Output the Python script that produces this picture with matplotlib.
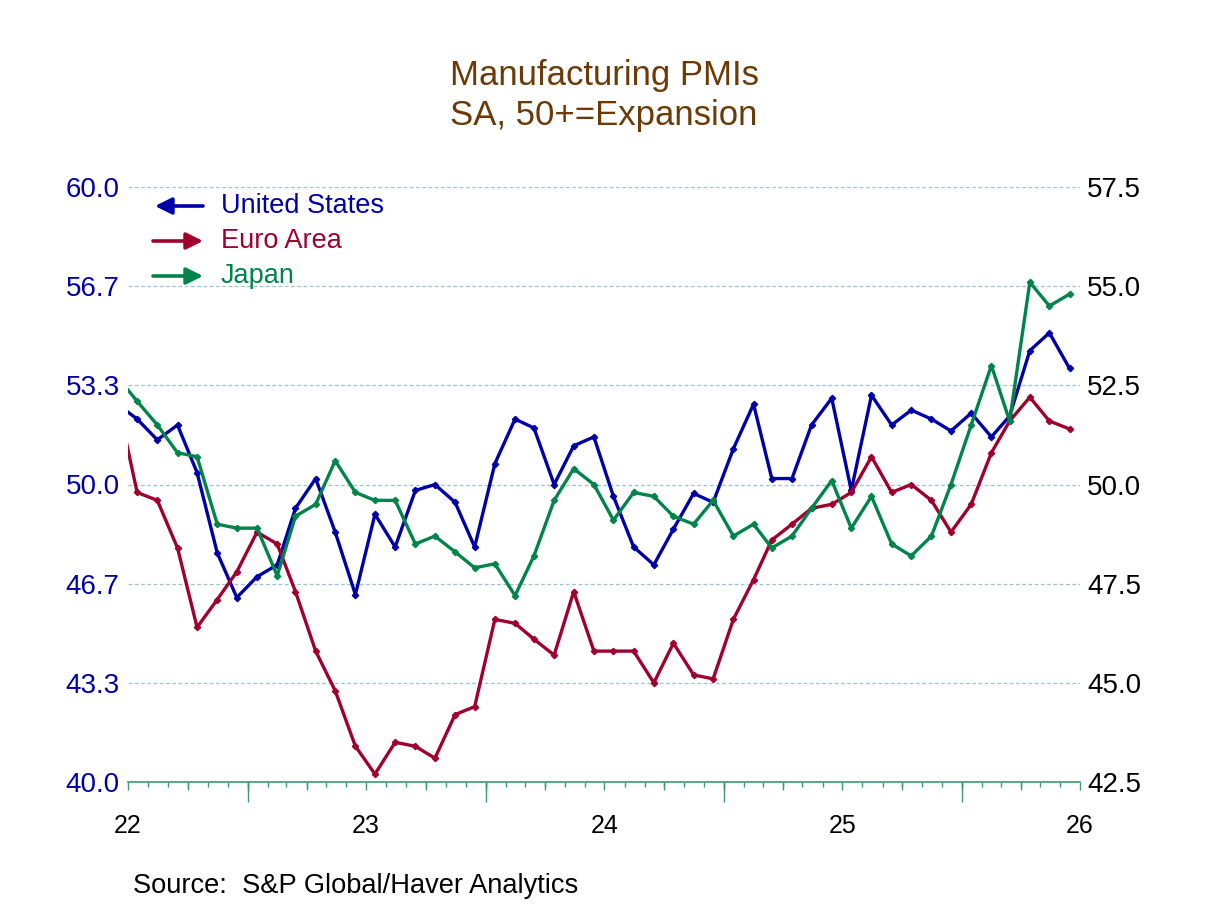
import numpy as np
import pandas as pd
import matplotlib
matplotlib.use('Agg')
import matplotlib.pyplot as plt
import matplotlib.dates as mdates

plt.rcParams['font.family'] = ['Liberation Sans', 'DejaVu Sans']

# monthly PMI readings, Jun 2022 .. Jun 2026 (first point sits just left of the axis and is clipped)
months = pd.date_range('2022-06-01', '2026-06-01', freq='MS') + pd.Timedelta(days=14)

us = [52.7, 52.2, 51.5, 52.0, 50.4, 47.7, 46.2,
      46.9, 47.3, 49.2, 50.2, 48.4, 46.3, 49.0, 47.9, 49.8, 50.0, 49.4, 47.9,
      50.7, 52.2, 51.9, 50.0, 51.3, 51.6, 49.6, 47.9, 47.3, 48.5, 49.7, 49.4,
      51.2, 52.7, 50.2, 50.2, 52.0, 52.9, 49.8, 53.0, 52.0, 52.5, 52.2, 51.8,
      52.4, 51.6, 52.3, 54.5, 55.1, 53.9]
euro = [52.1, 49.8, 49.6, 48.4, 46.4, 47.1, 47.8,
        48.8, 48.5, 47.3, 45.8, 44.8, 43.4, 42.7, 43.5, 43.4, 43.1, 44.2, 44.4,
        46.6, 46.5, 46.1, 45.7, 47.3, 45.8, 45.8, 45.8, 45.0, 46.0, 45.2, 45.1,
        46.6, 47.6, 48.6, 49.0, 49.4, 49.5, 49.8, 50.7, 49.8, 50.0, 49.6, 48.8,
        49.5, 50.8, 51.6, 52.2, 51.6, 51.4]
japan = [52.7, 52.1, 51.5, 50.8, 50.7, 49.0, 48.9,
         48.9, 47.7, 49.2, 49.5, 50.6, 49.8, 49.6, 49.6, 48.5, 48.7, 48.3, 47.9,
         48.0, 47.2, 48.2, 49.6, 50.4, 50.0, 49.1, 49.8, 49.7, 49.2, 49.0, 49.6,
         48.7, 49.0, 48.4, 48.7, 49.4, 50.1, 48.9, 49.7, 48.5, 48.2, 48.7, 50.0,
         51.5, 53.0, 51.6, 55.1, 54.5, 54.8]

series_names = ['United States', 'Euro Area', 'Japan']
year_labels = ['22', '23', '24', '25', '26']

BLUE = '#0000A8'
RED = '#A0002E'
GREEN = '#00844A'
BROWN = '#6B3A07'
AXGREEN = '#3C9A6E'
GRID = '#9CC2D6'

W, H = 1208, 906
fig = plt.figure(figsize=(W / 100, H / 100), dpi=100)
ax = fig.add_axes([128 / W, 1 - 782 / H, (1080 - 128) / W, (782 - 187) / H])
ax2 = ax.twinx()

# lines
ax.plot(months, us, color=BLUE, lw=2.4, marker='D', ms=3.2)
ax2.plot(months, euro, color=RED, lw=2.4, marker='D', ms=3.2)
ax2.plot(months, japan, color=GREEN, lw=2.4, marker='D', ms=3.2)

x0 = pd.Timestamp('2022-07-01')
x1 = pd.Timestamp('2026-07-01')
ax.set_xlim(x0, x1)

# y axes
lticks = np.linspace(40, 60, 7)
ax.set_ylim(40, 60)
ax.set_yticks(lticks)
ax.set_yticklabels(['%.1f' % v for v in lticks], color=BLUE, fontsize=20)
ax.tick_params(axis='y', length=0, pad=6)
ax.yaxis.grid(True, color=GRID, lw=0.9, ls=(0, (3, 2)))
ax.set_axisbelow(True)

rticks = np.arange(42.5, 57.6, 2.5)
ax2.set_ylim(42.5, 57.5)
ax2.set_yticks(rticks)
ax2.set_yticklabels(['%.1f' % v for v in rticks], color='black', fontsize=20)
ax2.tick_params(axis='y', length=0, pad=5)

for a in (ax, ax2):
    for s in ('left', 'right', 'top'):
        a.spines[s].set_visible(False)
ax2.spines['bottom'].set_visible(False)
ax.spines['bottom'].set_color(AXGREEN)
ax.spines['bottom'].set_linewidth(1.2)

# x axis: labels at mid-year, monthly minor ticks
label_pos = [mdates.date2num(pd.Timestamp('20%s-07-01' % y)) for y in year_labels]
ax.set_xticks(label_pos)
ax.set_xticklabels(year_labels, fontsize=18)
ax.tick_params(axis='x', which='major', length=0, pad=23)
month_pos = mdates.date2num(pd.date_range(x0, x1, freq='MS'))
ax.set_xticks(month_pos, minor=True)
ax.tick_params(axis='x', which='minor', length=3.8, color=AXGREEN, width=1)

# quarter and year ticks
qpos = mdates.date2num(pd.date_range(x0, x1, freq='QS'))
sec_q = ax.secondary_xaxis('bottom')
sec_q.set_xticks(qpos)
sec_q.set_xticklabels([''] * len(qpos))
sec_q.tick_params(length=6.0, color=AXGREEN, width=1)
sec_q.spines['bottom'].set_visible(False)

ypos = mdates.date2num(pd.date_range(x0, x1, freq='YS'))
sec_y = ax.secondary_xaxis('bottom')
sec_y.set_xticks(ypos)
sec_y.set_xticklabels([''] * len(ypos))
sec_y.tick_params(length=14.5, color=AXGREEN, width=1)
sec_y.spines['bottom'].set_visible(False)

# legend with arrows
leg_y = [206, 241, 276]
leg_col = [BLUE, RED, GREEN]
for name, yy, c, left in zip(series_names, leg_y, leg_col, [True, False, False]):
    tip, tail = (155, 203) if left else (203, 153)
    fig.add_artist(matplotlib.patches.FancyArrowPatch(
        (tail / W, 1 - yy / H), (tip / W, 1 - yy / H), transform=fig.transFigure,
        arrowstyle='-|>', mutation_scale=25, color=c, lw=2.6, shrinkA=0, shrinkB=0))
    fig.text(221 / W, 1 - yy / H, name, color=c, fontsize=19.5, va='center', ha='left')

# titles
fig.text(0.5, 1 - 76 / H, 'Manufacturing PMIs', ha='center', va='center', fontsize=25, color=BROWN)
fig.text(0.5, 1 - 115 / H, 'SA, 50+=Expansion', ha='center', va='center', fontsize=25, color=BROWN)
fig.text(133 / W, 1 - 886 / H, 'Source:  S&P Global/Haver Analytics', ha='left', va='center', fontsize=19.6)

fig.savefig('out.png', dpi=100)
